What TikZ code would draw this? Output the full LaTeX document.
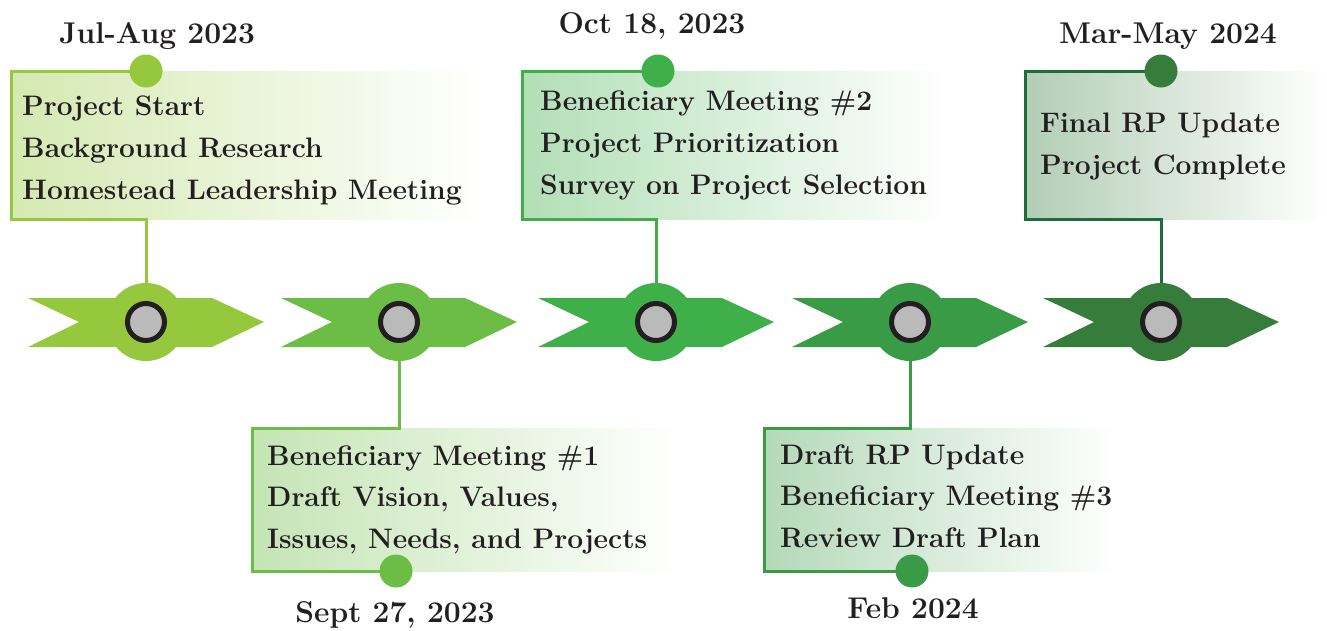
\documentclass[tikz,border=0pt]{standalone}
\definecolor{g1}{RGB}{149,200,61}
\definecolor{g2}{RGB}{108,189,69}
\definecolor{g3}{RGB}{62,175,73}
\definecolor{g4}{RGB}{58,155,70}
\definecolor{g5}{RGB}{54,125,59}
\definecolor{b5}{RGB}{30,108,58}
\definecolor{ink}{RGB}{35,31,32}
\definecolor{hubgray}{RGB}{186,186,186}
\begin{document}
\begin{tikzpicture}[x=1pt,y=-1pt,
  body/.style={font=\fontsize{28.2}{42}\selectfont\bfseries, anchor=base west, inner sep=0pt, text=ink},
  datelbl/.style={font=\fontsize{30}{34}\selectfont\bfseries, anchor=base, inner sep=0pt, text=ink},
  hub/.style={circle, minimum size=78pt, inner sep=0pt},
  ring/.style={circle, minimum size=37pt, inner sep=0pt, draw=ink, line width=5pt, fill=hubgray},
  dot/.style={circle, minimum size=33pt, inner sep=0pt},
  link/.style={line width=3pt}]
\useasboundingbox (0,0) rectangle (1327,630);

% shaded boxes
\shade[left color=g1!40!white, right color=white] (11,71) rectangle (482,219);
\shade[left color=g2!40!white, right color=white] (252,428) rectangle (680,571);
\shade[left color=g3!40!white, right color=white] (522,71) rectangle (947,219);
\shade[left color=g4!38!white, right color=white] (764,428) rectangle (1117,571);
\shade[left color=g5!38!white, right color=white] (1025,71) rectangle (1327,219);

% hubs
\node[hub, fill=g1] (h1) at (146,322) {};
\node[hub, fill=g2] (h2) at (399,322) {};
\node[hub, fill=g3] (h3) at (656,322) {};
\node[hub, fill=g4] (h4) at (910,322) {};
\node[hub, fill=g5] (h5) at (1161,322) {};

% arrow bands
\foreach \h/\c in {h1/g1,h2/g2,h3/g3,h4/g4,h5/g5}{
  \fill[\c] ([shift={(-118,-24)}]\h.center) -- ([shift={(66,-24)}]\h.center)
    -- ([shift={(118,0)}]\h.center) -- ([shift={(66,25)}]\h.center)
    -- ([shift={(-118,25)}]\h.center) -- ([shift={(-67,0)}]\h.center) -- cycle;
}

% corners
\coordinate (k1a) at (11,71);  \coordinate (k1b) at (11,219);  \coordinate (k1c) at (146,219);
\coordinate (k2a) at (252,571); \coordinate (k2b) at (252,428); \coordinate (k2c) at (399,428);
\coordinate (k3a) at (522,71); \coordinate (k3b) at (522,219); \coordinate (k3c) at (656,219);
\coordinate (k4a) at (764,571); \coordinate (k4b) at (764,428); \coordinate (k4c) at (910,428);
\coordinate (k5a) at (1025,71); \coordinate (k5b) at (1025,219); \coordinate (k5c) at (1161,219);

% dot positions
\coordinate (p1) at (146,71);
\coordinate (p2) at (396,571);
\coordinate (p3) at (658,71);
\coordinate (p4) at (912,571);
\coordinate (p5) at (1161,71);

\draw[link, g1] (p1) -- (k1a) -- (k1b) -- (k1c) -- (h1.north);
\draw[link, g2] (p2) -- (k2a) -- (k2b) -- (k2c) -- (h2.south);
\draw[link, g3] (p3) -- (k3a) -- (k3b) -- (k3c) -- (h3.north);
\draw[link, g4] (p4) -- (k4a) -- (k4b) -- (k4c) -- (h4.south);
\draw[link, b5] (p5) -- (k5a) -- (k5b) -- (k5c) -- (h5.north);

% dots
\node[dot, fill=g1] (d1) at (p1) {};
\node[dot, fill=g2] (d2) at (p2) {};
\node[dot, fill=g3] (d3) at (p3) {};
\node[dot, fill=g4] (d4) at (p4) {};
\node[dot, fill=g5] (d5) at (p5) {};

% rings
\node[ring] (r1) at (h1) {};
\node[ring] (r2) at (h2) {};
\node[ring] (r3) at (h3) {};
\node[ring] (r4) at (h4) {};
\node[ring] (r5) at (h5) {};

% dates
\node[datelbl] (t1) at (157,43) {Jul-Aug 2023};
\node[datelbl] (t2) at (395,622) {Sept 27, 2023};
\node[datelbl] (t3) at (652,33) {Oct 18, 2023};
\node[datelbl] (t4) at (913,618) {Feb 2024};
\node[datelbl] (t5) at (1168,43) {Mar-May 2024};

% box texts
\node[body] (a1) at (22,115) {Project Start};
\node[body] (a2) at (22,157) {Background Research};
\node[body] (a3) at (22,199) {Homestead Leadership Meeting};

\node[body] (b1) at (267,465) {Beneficiary Meeting \#1};
\node[body] (b2) at (267,506) {Draft Vision, Values,};
\node[body] (b3) at (267,548) {Issues, Needs, and Projects};

\node[body] (e1) at (540,110) {Beneficiary Meeting \#2};
\node[body] (e2) at (540,152) {Project Prioritization};
\node[body] (e3) at (540,194) {Survey on Project Selection};

\node[body] (f1) at (780,464) {Draft RP Update};
\node[body] (f2) at (780,505) {Beneficiary Meeting \#3};
\node[body] (f3) at (780,547) {Review Draft Plan};

\node[body] (m1) at (1040,132) {Final RP Update};
\node[body] (m2) at (1040,174) {Project Complete};
\end{tikzpicture}
\end{document}
